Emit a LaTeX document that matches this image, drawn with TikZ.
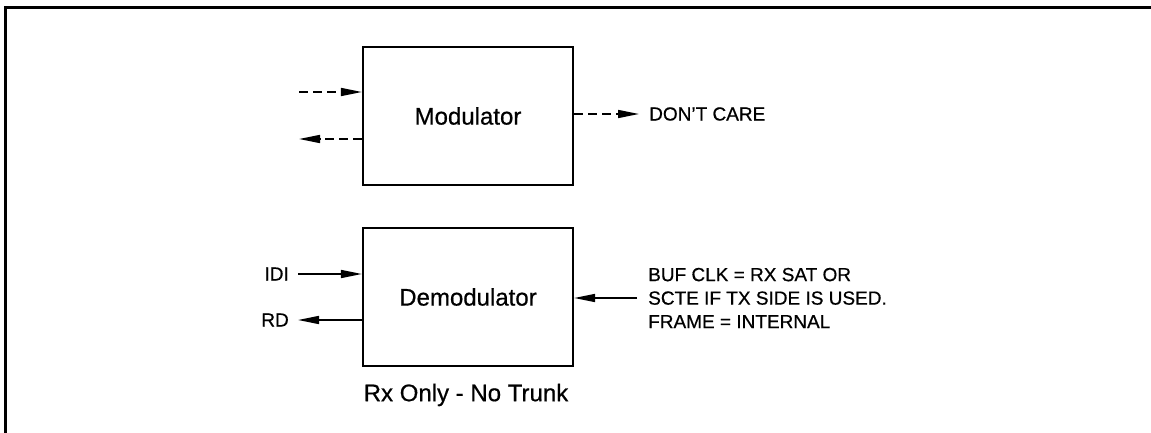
\documentclass[tikz,border=0pt]{standalone}
\usepackage{fontspec}
\setmainfont{Liberation Sans}[FakeBold=0.6,AutoFakeBold=0.6]
\usetikzlibrary{arrows.meta}
\begin{document}
\begin{tikzpicture}[x=1pt,y=-1pt,
  blockbox/.style={draw,line width=2.2pt,minimum width=210pt,minimum height=138pt,inner sep=0pt,font=\fontsize{24}{28}\selectfont\bfseries},
  sig/.style={line width=1.6pt,-{Triangle[length=21pt,width=8pt]}},
  dsig/.style={sig,dash pattern=on 9pt off 5pt},
  lbl/.style={font=\fontsize{19}{23.5}\selectfont\bfseries,inner sep=0pt},
  frameline/.style={line width=3pt}]
\useasboundingbox (0,0) rectangle (1151,433);
\coordinate (ftl) at (5,8);
\coordinate (ftr) at (1151,8);
\coordinate (fbl) at (5,433);
\draw[frameline] (fbl) -- (ftl) -- (ftr);

\node[blockbox] (mod) at (468,116) {Modulator};
\node[blockbox] (dem) at (468,297) {Demodulator};

% modulator dashed arrows
\coordinate (m1) at (299,92);
\coordinate (m2) at (299,139);
\draw[dsig] (m1) -- (m1 -| mod.west);
\draw[dsig] (m2 -| mod.west) -- (m2);
\node[lbl,anchor=west] (dc) at (649,114) {DON'T CARE};
\draw[dsig] (mod.east |- dc.west) -- ([xshift=-10pt]dc.west);

% demodulator arrows
\node[lbl,anchor=east] (idi) at (289,274) {IDI};
\node[lbl,anchor=east] (rd) at (289,320) {RD};
\draw[sig] ([xshift=9pt]idi.east) -- (idi.east -| dem.west);
\draw[sig] (rd.east -| dem.west) -- ([xshift=9pt]rd.east);

\node[lbl,anchor=west,align=left] (note) at (648,298) {BUF CLK = RX SAT OR\\SCTE IF TX SIDE IS USED.\\FRAME = INTERNAL};
\draw[sig] ([xshift=-11pt]note.west) -- (note.west -| dem.east);

\node[font=\fontsize{24}{28}\selectfont\bfseries,inner sep=0pt] (cap) at (466,395) {Rx Only - No Trunk};
\end{tikzpicture}
\end{document}
